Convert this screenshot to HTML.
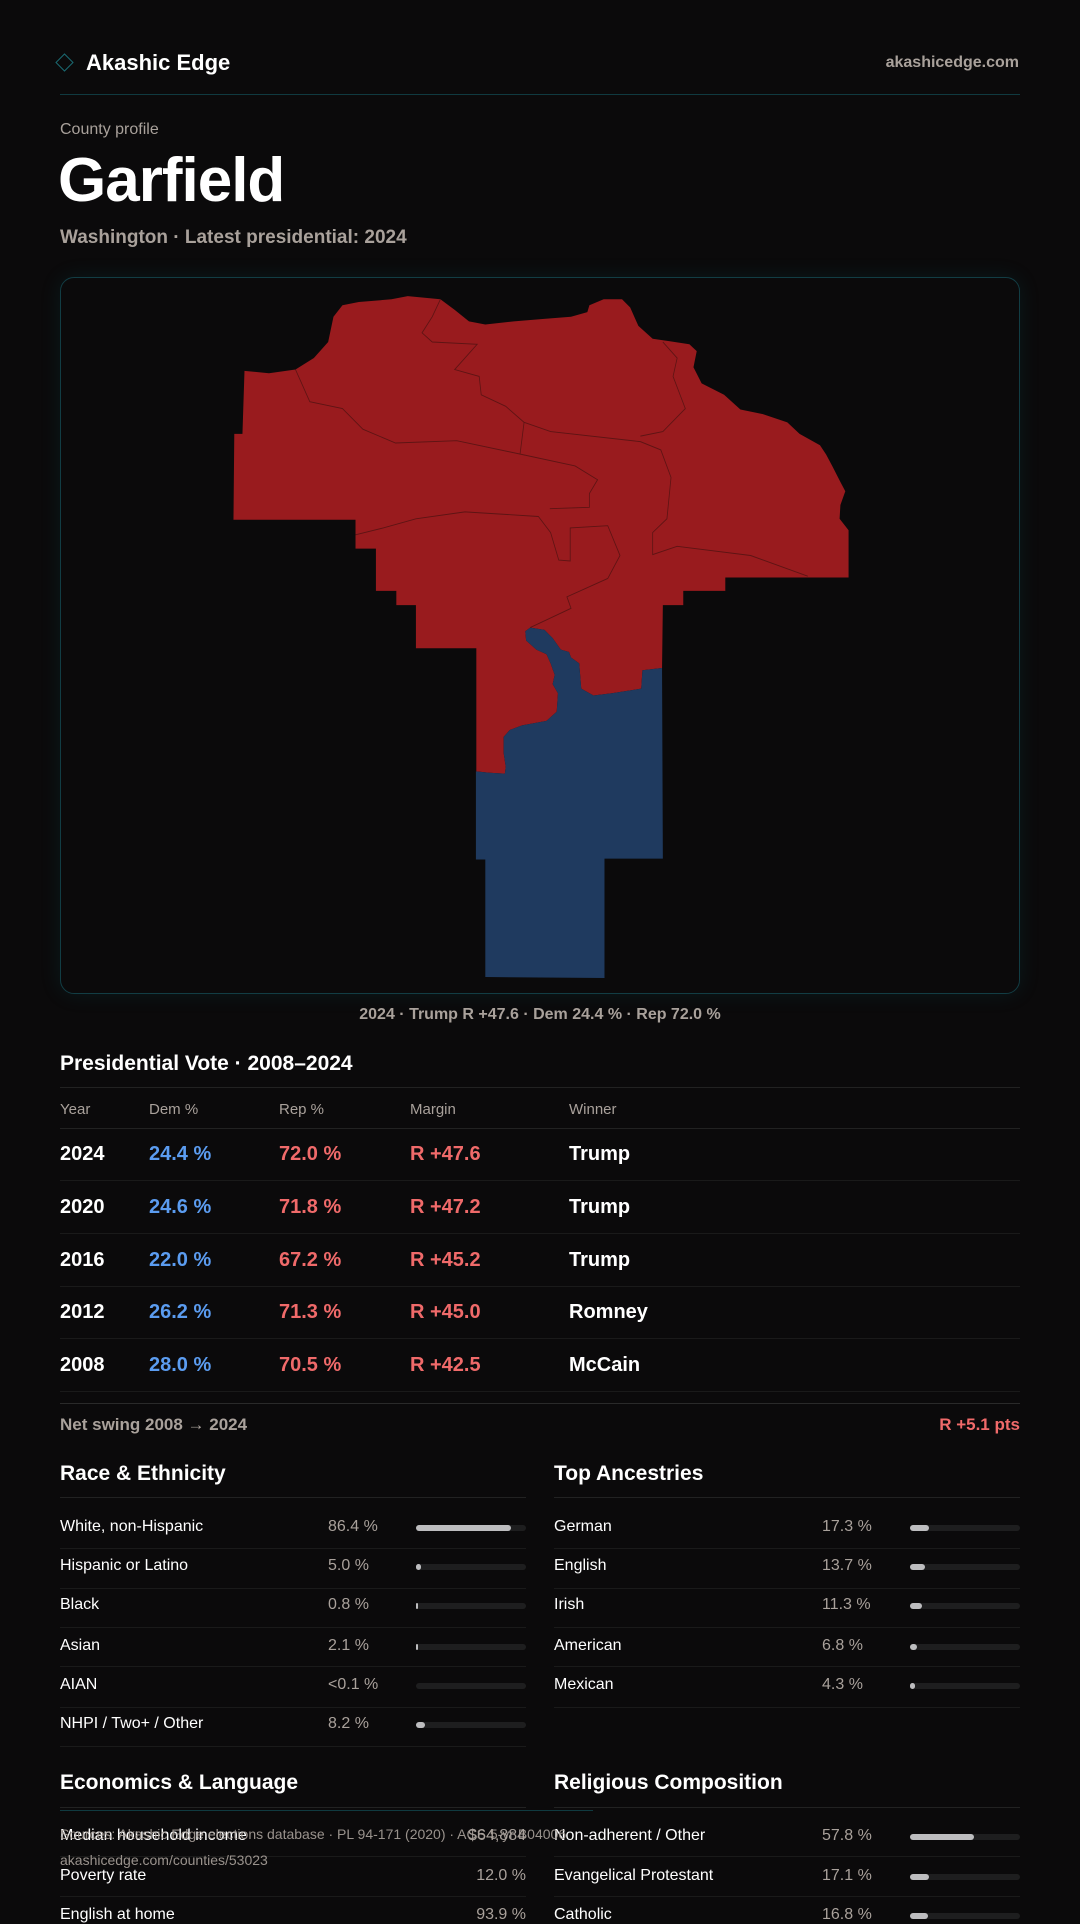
<!DOCTYPE html>
<html><head><meta charset="utf-8"><style>
*{margin:0;padding:0;box-sizing:border-box}
body{width:1080px;height:1920px;background:#0b0a0b;font-family:"Liberation Sans",sans-serif;color:#fff;position:relative;overflow:hidden}
.a{position:absolute;white-space:nowrap}
.g{color:#a9a19b}
.ln{position:absolute;height:1px;background:#222}
.rw{color:#f06a6a}.bl{color:#5b9cf0}
.bar{position:absolute;height:6px;border-radius:3px;background:#1e1e1f}
.bar i{position:absolute;left:0;top:0;height:6px;border-radius:3px;background:#bdbdbf}
.rv{position:absolute;left:326px;width:200px;text-align:right}
</style></head><body>
<div class="a" style="left:58px;top:56px;width:13px;height:13px;border:1.5px solid #1a6a72;transform:rotate(45deg)"></div>
<div class="a" style="left:86px;top:50px;font-size:22px;font-weight:bold">Akashic Edge</div>
<div class="a g" style="right:61px;top:54px;font-size:16px;font-weight:bold">akashicedge.com</div>
<div class="ln" style="left:60px;width:960px;top:94px;background:#103a40"></div>
<div class="a g" style="left:60px;top:121px;font-size:16px">County profile</div>
<div class="a" style="left:58px;top:145px;font-size:62px;font-weight:bold;letter-spacing:-1px">Garfield</div>
<div class="a g" style="left:60px;top:227px;font-size:19px;font-weight:bold">Washington · Latest presidential: 2024</div>
<div class="a" style="left:60px;top:277px;width:960px;height:717px;border:1px solid #123d44;border-radius:14px;box-shadow:0 0 22px rgba(20,140,150,0.12)"></div>
<svg class="a" style="left:220px;top:280px" width="640" height="720" viewBox="0 0 1568 1568" preserveAspectRatio="none">
<path fill="#991b1e" d="M60,198 L120,203 185,195 230,170 265,135 278,80 300,55 340,48 420,42 460,35 540,42 575,65 610,90 650,97 720,90 790,85 860,80 900,70 905,55 940,42 985,42 1005,60 1025,100 1060,128 1100,133 1150,140 1168,155 1160,190 1180,225 1235,250 1275,282 1330,292 1390,310 1420,335 1470,360 1485,380 1500,405 1520,440 1532,460 1520,490 1518,520 1540,545 1540,648 1238,648 1238,677 1135,677 1135,708 1085,708 1083,845 1035,850 1032,890 960,900 915,905 885,890 880,835 860,822 855,810 835,805 815,780 795,762 760,757 748,765 750,785 775,805 800,815 810,835 820,860 815,880 828,900 825,940 800,960 740,970 710,980 695,995 695,1030 700,1060 698,1075 660,1073 628,1070 628,802 480,802 480,708 432,708 432,677 382,677 382,585 332,585 332,522 33,522 35,335 55,335Z"/>
<path fill="#1f3a5f" d="M1083,845 L1085,1260 942,1260 942,1520 650,1518 650,1262 627,1262 627,1070 660,1073 698,1075 700,1060 695,1030 695,995 710,980 740,970 800,960 825,940 828,900 815,880 820,860 810,835 800,815 775,805 750,785 748,765 760,757 795,762 815,780 835,805 855,810 860,822 880,835 885,890 915,905 960,900 1032,890 1035,850Z"/>
<g fill="none" stroke="#5e1414" stroke-width="2">
<polyline points="185,195 220,265 300,280 350,325 430,355 580,350 740,380 870,405 925,435 905,465 905,495 808,498"/>
<polyline points="540,42 520,80 495,115 520,135 630,140 575,195 635,210 640,250 700,275 745,310 735,380"/>
<polyline points="745,310 810,330 1030,352 1080,370 1105,430 1095,520 1060,550 1060,598 1120,580 1300,600 1440,645"/>
<polyline points="1085,135 1120,170 1110,210 1140,280 1085,330 1030,340"/>
<polyline points="332,555 400,540 480,520 600,505 780,515 810,550 830,610 858,612 858,540 950,535 980,600 950,650 850,690 860,715 760,757"/>
</g>
</svg>
<div class="a g" style="left:0;width:1080px;text-align:center;top:1006px;font-size:16px;font-weight:bold">2024 · Trump R +47.6 · Dem 24.4 % · Rep 72.0 %</div>
<div class="a" style="left:60px;top:1052px;font-size:21px;font-weight:bold">Presidential Vote · 2008–2024</div>
<div class="ln" style="left:60px;width:960px;top:1087px"></div>
<div class="a g" style="left:60px;top:1101px;font-size:15px">Year</div>
<div class="a g" style="left:149px;top:1101px;font-size:15px">Dem %</div>
<div class="a g" style="left:279px;top:1101px;font-size:15px">Rep %</div>
<div class="a g" style="left:410px;top:1101px;font-size:15px">Margin</div>
<div class="a g" style="left:569px;top:1101px;font-size:15px">Winner</div>
<div class="ln" style="left:60px;width:960px;top:1128px"></div>
<div style="position:absolute;left:0;top:2px;font-size:20px;font-weight:bold">
<div class="a" style="left:60px;top:1141px">2024</div><div class="a bl" style="left:149px;top:1141px">24.4 %</div><div class="a rw" style="left:279px;top:1141px">72.0 %</div><div class="a rw" style="left:410px;top:1141px">R +47.6</div><div class="a" style="left:569px;top:1141px">Trump</div>
<div class="a" style="left:60px;top:1194px">2020</div><div class="a bl" style="left:149px;top:1194px">24.6 %</div><div class="a rw" style="left:279px;top:1194px">71.8 %</div><div class="a rw" style="left:410px;top:1194px">R +47.2</div><div class="a" style="left:569px;top:1194px">Trump</div>
<div class="a" style="left:60px;top:1247px">2016</div><div class="a bl" style="left:149px;top:1247px">22.0 %</div><div class="a rw" style="left:279px;top:1247px">67.2 %</div><div class="a rw" style="left:410px;top:1247px">R +45.2</div><div class="a" style="left:569px;top:1247px">Trump</div>
<div class="a" style="left:60px;top:1299px">2012</div><div class="a bl" style="left:149px;top:1299px">26.2 %</div><div class="a rw" style="left:279px;top:1299px">71.3 %</div><div class="a rw" style="left:410px;top:1299px">R +45.0</div><div class="a" style="left:569px;top:1299px">Romney</div>
<div class="a" style="left:60px;top:1352px">2008</div><div class="a bl" style="left:149px;top:1352px">28.0 %</div><div class="a rw" style="left:279px;top:1352px">70.5 %</div><div class="a rw" style="left:410px;top:1352px">R +42.5</div><div class="a" style="left:569px;top:1352px">McCain</div>
</div>
<div class="ln" style="left:60px;width:960px;top:1180px;background:#1a1a1a"></div>
<div class="ln" style="left:60px;width:960px;top:1233px;background:#1a1a1a"></div>
<div class="ln" style="left:60px;width:960px;top:1286px;background:#1a1a1a"></div>
<div class="ln" style="left:60px;width:960px;top:1338px;background:#1a1a1a"></div>
<div class="ln" style="left:60px;width:960px;top:1391px;background:#1a1a1a"></div>
<div class="ln" style="left:60px;width:960px;top:1403px;background:#2a2a2a"></div>
<div class="a g" style="left:60px;top:1415px;font-size:17px;font-weight:bold">Net swing 2008 → 2024</div>
<div class="a rw" style="right:60px;top:1415px;font-size:17px;font-weight:bold">R +5.1 pts</div>

<div class="a" style="left:60px;top:1462px;font-size:21px;font-weight:bold">Race &amp; Ethnicity</div>
<div class="a" style="left:554px;top:1462px;font-size:21px;font-weight:bold">Top Ancestries</div>
<div class="ln" style="left:60px;width:466px;top:1497px"></div>
<div class="ln" style="left:554px;width:466px;top:1497px"></div>
<div style="position:absolute;left:0;top:0;font-size:16px">
<div class="a" style="left:60px;top:1518px">White, non-Hispanic</div><div class="a g" style="left:328px;top:1518px">86.4 %</div><div class="bar" style="left:416px;top:1525px;width:110px"><i style="width:95px"></i></div>
<div class="a" style="left:60px;top:1557px">Hispanic or Latino</div><div class="a g" style="left:328px;top:1557px">5.0 %</div><div class="bar" style="left:416px;top:1564px;width:110px"><i style="width:5px"></i></div>
<div class="a" style="left:60px;top:1596px">Black</div><div class="a g" style="left:328px;top:1596px">0.8 %</div><div class="bar" style="left:416px;top:1603px;width:110px"><i style="width:2px"></i></div>
<div class="a" style="left:60px;top:1637px">Asian</div><div class="a g" style="left:328px;top:1637px">2.1 %</div><div class="bar" style="left:416px;top:1644px;width:110px"><i style="width:2px"></i></div>
<div class="a" style="left:60px;top:1676px">AIAN</div><div class="a g" style="left:328px;top:1676px">&lt;0.1 %</div><div class="bar" style="left:416px;top:1683px;width:110px"></div>
<div class="a" style="left:60px;top:1715px">NHPI / Two+ / Other</div><div class="a g" style="left:328px;top:1715px">8.2 %</div><div class="bar" style="left:416px;top:1722px;width:110px"><i style="width:9px"></i></div>
<div class="a" style="left:554px;top:1518px">German</div><div class="a g" style="left:822px;top:1518px">17.3 %</div><div class="bar" style="left:910px;top:1525px;width:110px"><i style="width:19px"></i></div>
<div class="a" style="left:554px;top:1557px">English</div><div class="a g" style="left:822px;top:1557px">13.7 %</div><div class="bar" style="left:910px;top:1564px;width:110px"><i style="width:15px"></i></div>
<div class="a" style="left:554px;top:1596px">Irish</div><div class="a g" style="left:822px;top:1596px">11.3 %</div><div class="bar" style="left:910px;top:1603px;width:110px"><i style="width:12px"></i></div>
<div class="a" style="left:554px;top:1637px">American</div><div class="a g" style="left:822px;top:1637px">6.8 %</div><div class="bar" style="left:910px;top:1644px;width:110px"><i style="width:7px"></i></div>
<div class="a" style="left:554px;top:1676px">Mexican</div><div class="a g" style="left:822px;top:1676px">4.3 %</div><div class="bar" style="left:910px;top:1683px;width:110px"><i style="width:5px"></i></div>
</div>
<div class="ln" style="left:60px;width:466px;top:1548px;background:#1a1a1a"></div><div class="ln" style="left:554px;width:466px;top:1548px;background:#1a1a1a"></div>
<div class="ln" style="left:60px;width:466px;top:1588px;background:#1a1a1a"></div><div class="ln" style="left:554px;width:466px;top:1588px;background:#1a1a1a"></div>
<div class="ln" style="left:60px;width:466px;top:1627px;background:#1a1a1a"></div><div class="ln" style="left:554px;width:466px;top:1627px;background:#1a1a1a"></div>
<div class="ln" style="left:60px;width:466px;top:1666px;background:#1a1a1a"></div><div class="ln" style="left:554px;width:466px;top:1666px;background:#1a1a1a"></div>
<div class="ln" style="left:60px;width:466px;top:1707px;background:#1a1a1a"></div><div class="ln" style="left:554px;width:466px;top:1707px;background:#1a1a1a"></div>
<div class="ln" style="left:60px;width:466px;top:1746px;background:#1a1a1a"></div>

<div class="a" style="left:60px;top:1771px;font-size:21px;font-weight:bold">Economics &amp; Language</div>
<div class="a" style="left:554px;top:1771px;font-size:21px;font-weight:bold">Religious Composition</div>
<div class="ln" style="left:60px;width:466px;top:1807px"></div>
<div class="ln" style="left:554px;width:466px;top:1807px"></div>
<div style="position:absolute;left:0;top:0;font-size:16px">
<div class="a" style="left:60px;top:1827px">Median household income</div><div class="rv g" style="top:1827px">$64,884</div>
<div class="a" style="left:60px;top:1867px">Poverty rate</div><div class="rv g" style="top:1867px">12.0 %</div>
<div class="a" style="left:60px;top:1906px">English at home</div><div class="rv g" style="top:1906px">93.9 %</div>
<div class="a" style="left:554px;top:1827px">Non-adherent / Other</div><div class="a g" style="left:822px;top:1827px">57.8 %</div><div class="bar" style="left:910px;top:1834px;width:110px"><i style="width:64px"></i></div>
<div class="a" style="left:554px;top:1867px">Evangelical Protestant</div><div class="a g" style="left:822px;top:1867px">17.1 %</div><div class="bar" style="left:910px;top:1874px;width:110px"><i style="width:19px"></i></div>
<div class="a" style="left:554px;top:1906px">Catholic</div><div class="a g" style="left:822px;top:1906px">16.8 %</div><div class="bar" style="left:910px;top:1913px;width:110px"><i style="width:18px"></i></div>
</div>
<div class="ln" style="left:60px;width:466px;top:1856px;background:#1a1a1a"></div><div class="ln" style="left:554px;width:466px;top:1856px;background:#1a1a1a"></div>
<div class="ln" style="left:60px;width:466px;top:1896px;background:#1a1a1a"></div><div class="ln" style="left:554px;width:466px;top:1896px;background:#1a1a1a"></div>

<div class="ln" style="left:60px;width:533px;top:1810px;background:#103a40"></div>
<div class="a g" style="left:60px;top:1826px;font-size:14px;opacity:.9">Sources: Akashic Edge elections database · PL 94-171 (2020) · ACS 5-yr B04006</div>
<div class="a g" style="left:60px;top:1852px;font-size:14px;opacity:.9">akashicedge.com/counties/53023</div>
</body></html>
